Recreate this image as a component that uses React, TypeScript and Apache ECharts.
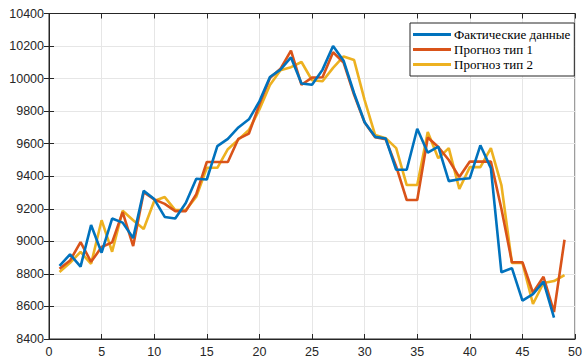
import React, { useEffect, useRef } from "react";
import * as echarts from "echarts";

const actual = [
  8850, 8920, 8845, 9100, 8930, 9140, 9115, 9020, 9310, 9260,
  9150, 9140, 9235, 9385, 9380, 9585, 9630, 9700, 9750, 9860,
  10010, 10055, 10130, 9970, 9962, 10055, 10200, 10110, 9910, 9732,
  9642, 9632, 9440, 9440, 9692, 9545, 9582, 9370, 9382, 9388,
  9590, 9450, 8810, 8835, 8636, 8676, 8752, 8532,
];
const forecast1 = [
  8832, 8882, 8995, 8874, 8965, 8994, 9180, 8971, 9302, 9258,
  9230, 9186, 9186, 9290, 9488, 9488, 9488, 9630, 9662, 9842,
  10004, 10060, 10172, 9962, 10006, 10008, 10162, 10098, 9900, 9730,
  9640, 9628, 9460, 9254, 9254, 9638, 9580, 9500, 9395, 9490,
  9490, 9490, 9200, 8872, 8872, 8684, 8782, 8566, 9010,
];
const forecast2 = [
  8812, 8868, 8935, 8862, 9130, 8936, 9188, 9130, 9076, 9248,
  9272, 9192, 9192, 9274, 9452, 9452, 9566, 9625, 9684, 9810,
  9960, 10052, 10070, 10102, 9990, 9984, 10066, 10136, 10114, 9868,
  9653, 9634, 9573, 9346, 9346, 9672, 9511, 9573, 9322, 9456,
  9456, 9573, 9346, 8867, 8867, 8615, 8744, 8756, 8793,
];
const seriesNames = ["Фактические данные", "Прогноз тип 1", "Прогноз тип 2"];
const seriesColors = ["#0072BD", "#D95319", "#EDB120"];

const toPairs = (arr: number[]) => arr.map((v, i) => [i + 1, v]);

export default function App() {
  const ref = useRef<HTMLDivElement>(null);
  useEffect(() => {
    if (!ref.current) return;
    const chart = echarts.init(ref.current, null, { renderer: "svg" });
    const axisColor = "#262626";
    const gridColor = "#e6e6e6";
    const labelFont = { fontFamily: "Liberation Sans", fontSize: 12.5, color: axisColor };
    const plain = (v: number) => String(v);
    const xBase = {
      type: "value" as const,
      min: 0,
      max: 50,
      interval: 5,
    };
    const yBase = {
      type: "value" as const,
      min: 8400,
      max: 10400,
      interval: 200,
    };
    chart.setOption({
      animation: false,
      backgroundColor: "#ffffff",
      grid: {
        left: 49,
        right: 6,
        top: 13.5,
        bottom: 23,
        containLabel: false,
        show: true,
        borderColor: axisColor,
        borderWidth: 1,
        backgroundColor: "#ffffff",
      },
      xAxis: [
        {
          ...xBase,
          position: "bottom",
          axisLine: { show: true, lineStyle: { color: axisColor, width: 1 } },
          axisTick: { show: true, inside: true, length: 5, lineStyle: { color: axisColor } },
          axisLabel: { ...labelFont, margin: 6, formatter: plain },
          splitLine: { show: true, lineStyle: { color: gridColor, width: 1 } },
        },
        {
          ...xBase,
          position: "top",
          axisLine: { show: true, lineStyle: { color: axisColor, width: 1 } },
          axisTick: { show: true, inside: true, length: 5, lineStyle: { color: axisColor } },
          axisLabel: { show: false },
          splitLine: { show: false },
        },
      ],
      yAxis: [
        {
          ...yBase,
          position: "left",
          axisLine: { show: true, lineStyle: { color: axisColor, width: 1 } },
          axisTick: { show: true, inside: true, length: 5, lineStyle: { color: axisColor } },
          axisLabel: { ...labelFont, margin: 5, formatter: plain },
          splitLine: { show: true, lineStyle: { color: gridColor, width: 1 } },
        },
        {
          ...yBase,
          position: "right",
          axisLine: { show: true, lineStyle: { color: axisColor, width: 1 } },
          axisTick: { show: true, inside: true, length: 5, lineStyle: { color: axisColor } },
          axisLabel: { show: false },
          splitLine: { show: false },
        },
      ],
      legend: {
        data: seriesNames,
        orient: "vertical",
        left: 410,
        top: 23,
        backgroundColor: "#ffffff",
        borderColor: axisColor,
        borderWidth: 1,
        borderRadius: 0,
        padding: [5, 4, 5, 3],
        itemGap: 2,
        itemWidth: 38,
        itemHeight: 3,
        icon: "rect",
        textStyle: {
          fontFamily: "Liberation Serif",
          fontSize: 13,
          fontWeight: "normal",
          color: "#000000",
          padding: [0, 0, 0, -2],
        },
      },
      series: [actual, forecast1, forecast2].map((arr, i) => ({
        name: seriesNames[i],
        type: "line",
        data: toPairs(arr),
        xAxisIndex: 0,
        yAxisIndex: 0,
        showSymbol: false,
        symbol: "none",
        lineStyle: { color: seriesColors[i], width: 2.6 },
        itemStyle: { color: seriesColors[i] },
        z: 3 + (2 - i),
      })),
    });
    return () => chart.dispose();
  }, []);
  return <div ref={ref} style={{ width: 585, height: 362, position: "absolute", left: 0, top: 0 }} />;
}
